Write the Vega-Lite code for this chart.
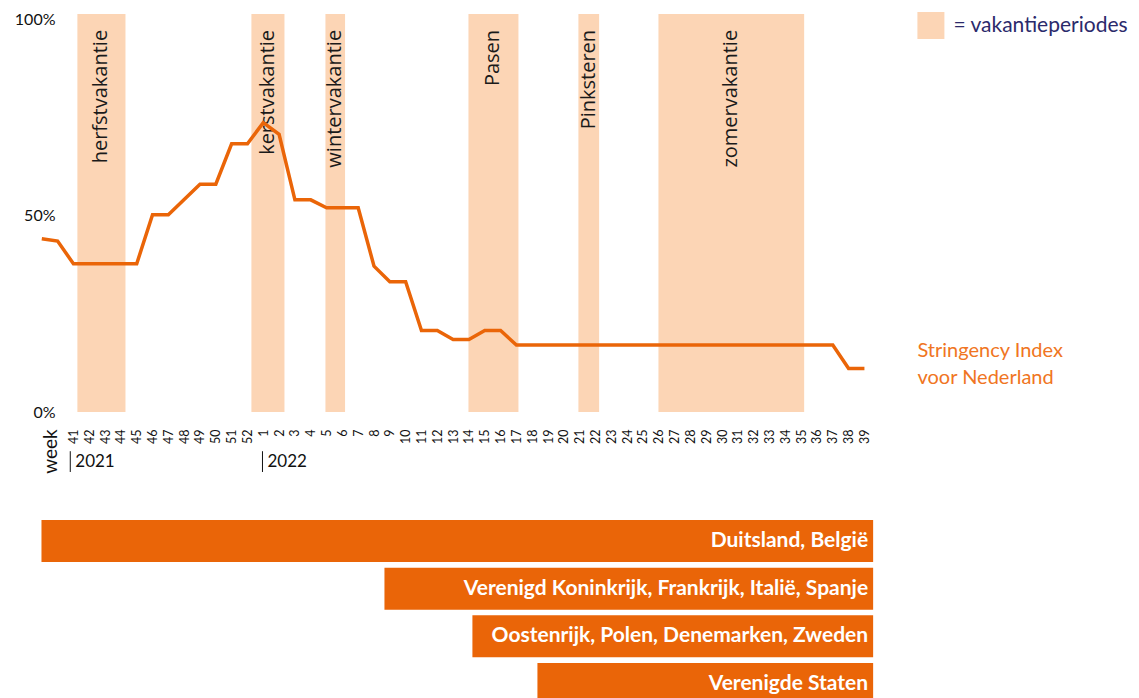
{
  "$schema": "https://vega.github.io/schema/vega-lite/v6.json",
  "padding": {"left": 14, "top": 11, "right": 0, "bottom": 0},
  "background": "white",
  "bounds": "flush",
  "spacing": 108,
  "config": {
    "view": {"stroke": null},
    "font": "Lato",
    "axisX": {"labelOverlap": false, "labelFlush": false, "labelBound": false, "tickCount": 200}
  },
  "datasets": {
    "index": [
      {"idx": -2, "year": 2021, "week": 39, "value": 44.2},
      {"idx": -1, "year": 2021, "week": 40, "value": 43.6},
      {"idx": 0, "year": 2021, "week": 41, "value": 37.8},
      {"idx": 1, "year": 2021, "week": 42, "value": 37.8},
      {"idx": 2, "year": 2021, "week": 43, "value": 37.8},
      {"idx": 3, "year": 2021, "week": 44, "value": 37.8},
      {"idx": 4, "year": 2021, "week": 45, "value": 37.8},
      {"idx": 5, "year": 2021, "week": 46, "value": 50.3},
      {"idx": 6, "year": 2021, "week": 47, "value": 50.3},
      {"idx": 7, "year": 2021, "week": 48, "value": 54.2},
      {"idx": 8, "year": 2021, "week": 49, "value": 58.1},
      {"idx": 9, "year": 2021, "week": 50, "value": 58.1},
      {"idx": 10, "year": 2021, "week": 51, "value": 68.4},
      {"idx": 11, "year": 2021, "week": 52, "value": 68.4},
      {"idx": 12, "year": 2022, "week": 1, "value": 73.8},
      {"idx": 13, "year": 2022, "week": 2, "value": 70.8},
      {"idx": 14, "year": 2022, "week": 3, "value": 54.1},
      {"idx": 15, "year": 2022, "week": 4, "value": 54.1},
      {"idx": 16, "year": 2022, "week": 5, "value": 52.1},
      {"idx": 17, "year": 2022, "week": 6, "value": 52.1},
      {"idx": 18, "year": 2022, "week": 7, "value": 52.1},
      {"idx": 19, "year": 2022, "week": 8, "value": 37.2},
      {"idx": 20, "year": 2022, "week": 9, "value": 33.2},
      {"idx": 21, "year": 2022, "week": 10, "value": 33.2},
      {"idx": 22, "year": 2022, "week": 11, "value": 20.8},
      {"idx": 23, "year": 2022, "week": 12, "value": 20.8},
      {"idx": 24, "year": 2022, "week": 13, "value": 18.5},
      {"idx": 25, "year": 2022, "week": 14, "value": 18.5},
      {"idx": 26, "year": 2022, "week": 15, "value": 20.8},
      {"idx": 27, "year": 2022, "week": 16, "value": 20.8},
      {"idx": 28, "year": 2022, "week": 17, "value": 17.1},
      {"idx": 29, "year": 2022, "week": 18, "value": 17.1},
      {"idx": 30, "year": 2022, "week": 19, "value": 17.1},
      {"idx": 31, "year": 2022, "week": 20, "value": 17.1},
      {"idx": 32, "year": 2022, "week": 21, "value": 17.1},
      {"idx": 33, "year": 2022, "week": 22, "value": 17.1},
      {"idx": 34, "year": 2022, "week": 23, "value": 17.1},
      {"idx": 35, "year": 2022, "week": 24, "value": 17.1},
      {"idx": 36, "year": 2022, "week": 25, "value": 17.1},
      {"idx": 37, "year": 2022, "week": 26, "value": 17.1},
      {"idx": 38, "year": 2022, "week": 27, "value": 17.1},
      {"idx": 39, "year": 2022, "week": 28, "value": 17.1},
      {"idx": 40, "year": 2022, "week": 29, "value": 17.1},
      {"idx": 41, "year": 2022, "week": 30, "value": 17.1},
      {"idx": 42, "year": 2022, "week": 31, "value": 17.1},
      {"idx": 43, "year": 2022, "week": 32, "value": 17.1},
      {"idx": 44, "year": 2022, "week": 33, "value": 17.1},
      {"idx": 45, "year": 2022, "week": 34, "value": 17.1},
      {"idx": 46, "year": 2022, "week": 35, "value": 17.1},
      {"idx": 47, "year": 2022, "week": 36, "value": 17.1},
      {"idx": 48, "year": 2022, "week": 37, "value": 17.1},
      {"idx": 49, "year": 2022, "week": 38, "value": 11.1},
      {"idx": 50, "year": 2022, "week": 39, "value": 11.1}
    ],
    "holidays": [
      {"name": "herfstvakantie", "start": 0.25, "end": 3.29},
      {"name": "kerstvakantie", "start": 11.25, "end": 13.34},
      {"name": "wintervakantie", "start": 15.93, "end": 17.17},
      {"name": "Pasen", "start": 24.97, "end": 28.13},
      {"name": "Pinksteren", "start": 31.92, "end": 33.23},
      {"name": "zomervakantie", "start": 36.98, "end": 46.19}
    ],
    "years": [
      {"year": "2021", "pos": -0.2},
      {"year": "2022", "pos": 11.95}
    ],
    "countries": [
      {"countries": "Duitsland, België", "start": -2.02, "end": 50.55},
      {"countries": "Verenigd Koninkrijk, Frankrijk, Italië, Spanje", "start": 19.66, "end": 50.55},
      {"countries": "Oostenrijk, Polen, Denemarken, Zweden", "start": 25.22, "end": 50.55},
      {"countries": "Verenigde Staten", "start": 29.33, "end": 50.55}
    ]
  },
  "vconcat": [
    {
      "width": 844,
      "height": 398,
      "layer": [
        {
          "data": {"name": "holidays"},
          "mark": {"type": "rect"},
          "encoding": {
            "x": {
              "field": "start", "type": "quantitative",
              "scale": {"domain": [-2.05, 51.3], "nice": false, "zero": false},
              "axis": {
                "values": [0,1,2,3,4,5,6,7,8,9,10,11,12,13,14,15,16,17,18,19,20,21,22,23,24,25,26,27,28,29,30,31,32,33,34,35,36,37,38,39,40,41,42,43,44,45,46,47,48,49,50],
                "tickCount": 200,
                "labelExpr": "datum.value <= 11 ? '' + (datum.value + 41) : '' + (datum.value - 11)",
                "labelAngle": 270, "labelAlign": "right", "labelBaseline": "middle",
                "labelPadding": 17, "ticks": false, "tickSize": 0, "domain": false, "grid": false,
                "labelFontSize": 12.5, "labelColor": "#111111", "labelFont": "Lato",
                "labelOverlap": false, "labelFlush": false, "labelBound": false,
                "title": "week", "titleAngle": 270, "titleX": 9.4, "titleY": 39,
                "titleAlign": "center", "titleBaseline": "middle", "titleFontSize": 19,
                "titleFontWeight": "normal", "titleColor": "#111111", "titleFont": "Lato"
              }
            },
            "x2": {"field": "end"},
            "color": {
              "datum": "= vakantieperiodes", "type": "nominal",
              "scale": {"range": ["#FCD5B5"]},
              "legend": {
                "orient": "none", "legendX": 876.4, "legendY": -2, "title": null,
                "symbolType": "square", "symbolSize": 729, "symbolStrokeWidth": 0,
                "symbolOpacity": 1, "labelFontSize": 21, "labelColor": "#2B2A6B",
                "labelFont": "Lato", "labelOffset": 9, "labelLimit": 400, "padding": 0
              }
            }
          }
        },
        {
          "data": {"name": "holidays"},
          "transform": [{"calculate": "(datum.start + datum.end) / 2", "as": "mid"}],
          "mark": {"type": "text", "angle": 270, "align": "right", "baseline": "middle", "dx": -10, "font": "Open Sans", "fontSize": 20, "color": "#1a1a1a"},
          "encoding": {
            "x": {"field": "mid", "type": "quantitative"},
            "y": {"datum": 100, "type": "quantitative"},
            "text": {"field": "name"}
          }
        },
        {
          "mark": {"type": "rule", "color": "#666666", "strokeWidth": 1.5},
          "encoding": {
            "x": {"datum": 0.06, "type": "quantitative"},
            "x2": {"datum": 51.3},
            "y": {"datum": 0, "type": "quantitative"}
          }
        },
        {
          "data": {"name": "index"},
          "mark": {"type": "line", "color": "#EA6508", "strokeWidth": 3.5},
          "encoding": {
            "x": {"field": "idx", "type": "quantitative"},
            "y": {
              "field": "value", "type": "quantitative",
              "scale": {"domain": [0, 101.5], "nice": false, "zero": false},
              "axis": {
                "values": [0, 50, 100], "labelExpr": "datum.value + '%'",
                "domain": false, "ticks": false, "grid": false, "labelPadding": 0,
                "offset": -14, "labelFontSize": 16, "labelColor": "#111111",
                "labelFont": "Lato", "title": null
              }
            }
          }
        },
        {
          "data": {"name": "index"},
          "transform": [{"filter": "datum.idx == 50"}],
          "mark": {"type": "text", "text": ["Stringency Index", "voor Nederland"], "align": "left", "baseline": "middle", "dx": 53, "dy": -17.5, "fontSize": 20, "lineHeight": 27, "color": "#F07522", "font": "Lato"},
          "encoding": {
            "x": {"field": "idx", "type": "quantitative"},
            "y": {"field": "value", "type": "quantitative"}
          }
        },
        {
          "data": {"name": "years"},
          "mark": {"type": "rule", "color": "#111111", "strokeWidth": 1},
          "encoding": {
            "x": {"field": "pos", "type": "quantitative"},
            "y": {"datum": -10, "type": "quantitative"},
            "y2": {"datum": -15.3}
          }
        },
        {
          "data": {"name": "years"},
          "mark": {"type": "text", "align": "left", "baseline": "middle", "dx": 5, "fontSize": 17, "color": "#111111", "font": "Lato"},
          "encoding": {
            "x": {"field": "pos", "type": "quantitative"},
            "y": {"datum": -12.8, "type": "quantitative"},
            "text": {"field": "year"}
          }
        }
      ]
    },
    {
      "width": 844,
      "height": 185,
      "data": {"name": "countries"},
      "layer": [
        {
          "mark": {"type": "bar", "color": "#EA6508"},
          "encoding": {
            "x": {"field": "start", "type": "quantitative", "scale": {"domain": [-2.05, 51.3], "nice": false, "zero": false}, "axis": null},
            "x2": {"field": "end"},
            "y": {"field": "countries", "type": "nominal", "sort": null, "axis": null, "scale": {"paddingInner": 0.12, "paddingOuter": 0}}
          }
        },
        {
          "mark": {"type": "text", "align": "right", "baseline": "middle", "dx": -5, "fontSize": 21, "fontWeight": "bold", "color": "white", "font": "Lato"},
          "encoding": {
            "x": {"field": "end", "type": "quantitative"},
            "y": {"field": "countries", "type": "nominal", "sort": null},
            "text": {"field": "countries"}
          }
        }
      ]
    }
  ]
}
